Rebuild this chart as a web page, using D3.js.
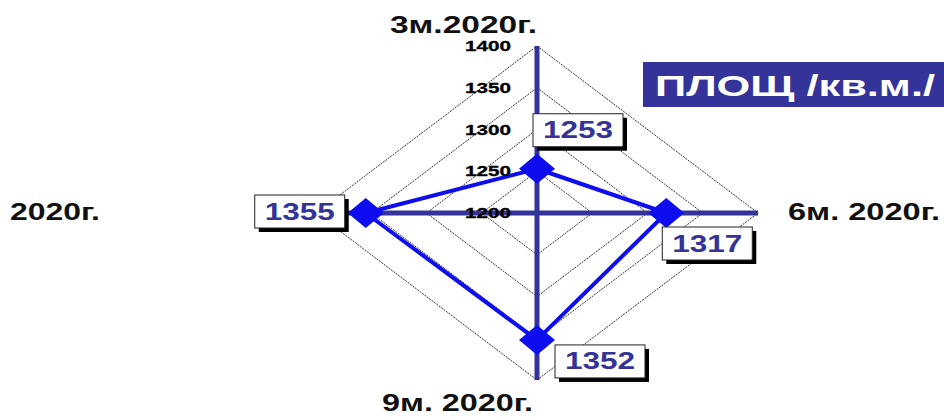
<!DOCTYPE html>
<html>
<head>
<meta charset="utf-8">
<script src="https://cdn.jsdelivr.net/npm/d3@7"></script>
<style>
  body { margin: 0; background: #fff; }
  text { font-family: "Liberation Sans", Arial, sans-serif; font-weight: bold; }
</style>
</head>
<body>
<svg width="944" height="417"></svg>
<script>
// chart data
var categories = ["3м.2020г.", "6м. 2020г.", "9м. 2020г.", "2020г."];
var values = [1253, 1317, 1352, 1355];
var tickValues = [1200, 1250, 1300, 1350, 1400];
var title = "ПЛОЩ /кв.м./";

var svg = d3.select("svg");
var cx = 537, cy = 213;
var rx = 221, ry = 167;
var axisColor = "#333399";
var lineColor = "#0d0df0";

var rX = d3.scaleLinear().domain([1200, 1400]).range([0, rx]);
var rY = d3.scaleLinear().domain([1200, 1400]).range([0, ry]);

// angle for each category, clockwise from top
var angle = d3.scalePoint().domain(d3.range(categories.length)).range([0, 2 * Math.PI * (categories.length - 1) / categories.length]);

function pt(i, v) {
  var a = angle(i);
  return [cx + Math.sin(a) * rX(v), cy - Math.cos(a) * rY(v)];
}

var g = svg.append("g");

// grid diamonds
tickValues.slice(1).forEach(function(t) {
  var pts = categories.map(function(c, i) { return pt(i, t); });
  g.append("path")
    .attr("d", d3.line()(pts) + "Z")
    .attr("fill", "none")
    .attr("stroke", "#333")
    .attr("stroke-width", 1)
    .attr("stroke-dasharray", "2,1");
});

// axes
categories.forEach(function(c, i) {
  var end = pt(i, 1400);
  g.append("line")
    .attr("x1", cx).attr("y1", cy)
    .attr("x2", end[0]).attr("y2", end[1])
    .attr("stroke", axisColor)
    .attr("stroke-width", 5);
});

// data line
var dataPts = values.map(function(v, i) { return pt(i, v); });
g.append("path")
  .attr("d", d3.line()(dataPts) + "Z")
  .attr("fill", "none")
  .attr("stroke", lineColor)
  .attr("stroke-width", 4)
  .attr("stroke-linejoin", "round");

// markers
g.selectAll(".marker")
  .data(dataPts)
  .enter().append("path")
    .attr("class", "marker")
    .attr("d", function(d) {
      return "M" + d[0] + "," + (d[1] - 15) + "L" + (d[0] + 18) + "," + d[1] +
        "L" + d[0] + "," + (d[1] + 15) + "L" + (d[0] - 18) + "," + d[1] + "Z";
    })
    .attr("fill", lineColor);

// tick labels
g.selectAll(".tick")
  .data(tickValues)
  .enter().append("text")
    .attr("class", "tick")
    .attr("x", 511)
    .attr("y", function(d) { return cy - rY(d) + 5; })
    .attr("text-anchor", "end")
    .attr("font-size", 14)
    .attr("textLength", 46)
    .attr("lengthAdjust", "spacingAndGlyphs")
    .attr("fill", "#000")
    .attr("stroke", "#000")
    .attr("stroke-width", 0.3)
    .text(function(d) { return d; });

// value label boxes (offset of box corner from its point)
var boxOff = [[-4, -55], [-4, 14], [18, 5], [-111, -18]];
var bw = 90, bh = 33;
values.forEach(function(v, i) {
  var p = dataPts[i];
  var x0 = p[0] + boxOff[i][0], y0 = p[1] + boxOff[i][1];
  g.append("rect")
    .attr("x", x0 + 4).attr("y", y0 + 4)
    .attr("width", bw).attr("height", bh)
    .attr("fill", "#000");
  g.append("rect")
    .attr("x", x0).attr("y", y0)
    .attr("width", bw).attr("height", bh)
    .attr("fill", "#fff")
    .attr("stroke", "#222")
    .attr("stroke-width", 1);
  g.append("text")
    .attr("x", x0 + bw / 2)
    .attr("y", y0 + bh / 2 + 8)
    .attr("text-anchor", "middle")
    .attr("font-size", 24)
    .attr("textLength", 70)
    .attr("lengthAdjust", "spacingAndGlyphs")
    .attr("fill", axisColor)
    .text(v);
});

// category labels
var catPos = [
  { x: 390, y: 33, w: 147 },
  { x: 788, y: 220, w: 152 },
  { x: 382, y: 411, w: 151 },
  { x: 10, y: 220, w: 90 }
];
categories.forEach(function(c, i) {
  svg.append("text")
    .attr("x", catPos[i].x)
    .attr("y", catPos[i].y)
    .attr("font-size", 24)
    .attr("textLength", catPos[i].w)
    .attr("lengthAdjust", "spacingAndGlyphs")
    .attr("fill", "#111")
    .text(c);
});

// title
svg.append("rect")
  .attr("x", 643).attr("y", 62)
  .attr("width", 310).attr("height", 45)
  .attr("fill", axisColor);
svg.append("text")
  .attr("x", 655).attr("y", 96)
  .attr("font-size", 30)
  .attr("textLength", 280)
  .attr("lengthAdjust", "spacingAndGlyphs")
  .attr("fill", "#fff")
  .text(title);
</script>
</body>
</html>
